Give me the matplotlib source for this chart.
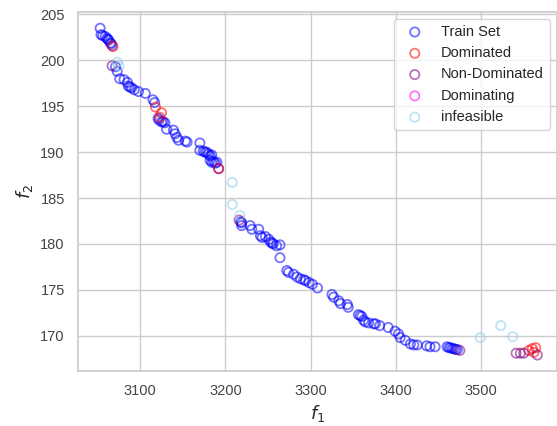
import matplotlib
matplotlib.use('Agg')
import matplotlib.pyplot as plt
import seaborn as sns

sns.set_theme(style='whitegrid')
plt.rcParams['font.family'] = ['Liberation Sans', 'DejaVu Sans']

# train set (f1, f2)
train_f1 = [3053, 3054, 3056, 3059, 3061, 3062, 3063, 3065, 3066, 3071, 3073, 3076, 3081,
            3085, 3086, 3088, 3090, 3093, 3098, 3106, 3115, 3117, 3121, 3122, 3125, 3127,
            3129, 3131, 3139, 3141, 3143, 3145, 3153, 3155, 3170, 3170, 3174, 3176, 3178,
            3180, 3182, 3184, 3182, 3184, 3186, 3188, 3190, 3218, 3219, 3219, 3229, 3231,
            3239, 3241, 3243, 3247, 3251, 3253, 3255, 3256, 3260, 3264, 3264, 3272, 3274,
            3280, 3284, 3288, 3292, 3294, 3298, 3302, 3308, 3325, 3327, 3333, 3335, 3343,
            3344, 3356, 3358, 3360, 3362, 3364, 3368, 3374, 3376, 3381, 3391, 3399, 3403,
            3405, 3411, 3417, 3421, 3425, 3436, 3440, 3446, 3460, 3462, 3464, 3466, 3468,
            3470, 3472]
train_f2 = [203.5, 202.8, 202.7, 202.6, 202.4, 202.3, 202.2, 201.9, 201.8, 199.3, 198.8, 198.0, 197.9,
            197.6, 197.2, 197.1, 197.0, 196.8, 196.6, 196.4, 195.7, 195.4, 193.7, 193.5, 193.3, 193.3,
            193.2, 192.5, 192.4, 192.0, 191.6, 191.3, 191.2, 191.1, 191.0, 190.2, 190.1, 190.0, 190.0,
            189.8, 189.6, 189.7, 189.1, 188.9, 189.0, 188.8, 188.9, 182.4, 182.3, 182.0, 182.0, 181.6,
            181.6, 180.9, 180.7, 180.8, 180.5, 180.2, 180.1, 180.0, 179.8, 179.9, 178.5, 177.1, 176.9,
            176.7, 176.4, 176.2, 176.1, 176.0, 175.8, 175.6, 175.2, 174.5, 174.2, 173.8, 173.5, 173.4,
            173.1, 172.3, 172.2, 172.1, 171.7, 171.5, 171.4, 171.3, 171.3, 171.1, 170.9, 170.5, 170.2,
            169.8, 169.5, 169.1, 169.0, 169.0, 168.9, 168.8, 168.8, 168.8, 168.7, 168.7, 168.6, 168.6,
            168.5, 168.5]

dominated_f1 = [3068, 3118, 3123, 3125, 3192, 3556, 3560, 3564, 3562]
dominated_f2 = [201.5, 194.9, 193.8, 194.3, 188.2, 168.4, 168.6, 168.7, 168.2]

nondom_f1 = [3067, 3067, 3192, 3216, 3475, 3541, 3546, 3550, 3566]
nondom_f2 = [201.6, 199.4, 188.2, 182.6, 168.4, 168.1, 168.1, 168.1, 167.9]

dominating_f1 = []
dominating_f2 = []

infeasible_f1 = [3073, 3075, 3208, 3208, 3217, 3499, 3523, 3537]
infeasible_f2 = [199.8, 199.4, 186.7, 184.3, 183.1, 169.8, 171.1, 169.9]

fig = plt.figure(figsize=(5.57, 4.26), dpi=100)
ax = fig.add_axes([0.140, 0.130, 0.860, 0.8425])

ms = 44
lw = 1.3
ax.scatter(train_f1, train_f2, s=ms, facecolors='none', edgecolors='blue', alpha=0.55, linewidths=lw, label='Train Set')
ax.scatter(dominated_f1, dominated_f2, s=ms, facecolors='none', edgecolors='red', alpha=0.55, linewidths=lw, label='Dominated')
ax.scatter(nondom_f1, nondom_f2, s=ms, facecolors='none', edgecolors='purple', alpha=0.55, linewidths=lw, label='Non-Dominated')
ax.scatter(dominating_f1, dominating_f2, s=ms, facecolors='none', edgecolors='magenta', alpha=0.55, linewidths=lw, label='Dominating')
ax.scatter(infeasible_f1, infeasible_f2, s=ms, facecolors='none', edgecolors='skyblue', alpha=0.55, linewidths=lw, label='infeasible')

ax.set_xlim(3027, 3589)
ax.set_ylim(166.2, 205.3)
ax.set_xticks([3100, 3200, 3300, 3400, 3500])
ax.set_yticks([170, 175, 180, 185, 190, 195, 200, 205])
ax.tick_params(labelsize=10.5, colors='#444444')
ax.set_xlabel('$f_1$', fontsize=13)
ax.set_ylabel('$f_2$', fontsize=13)
ax.legend(loc='upper right', fontsize=10.5)

fig.savefig('out.png', dpi=100)
